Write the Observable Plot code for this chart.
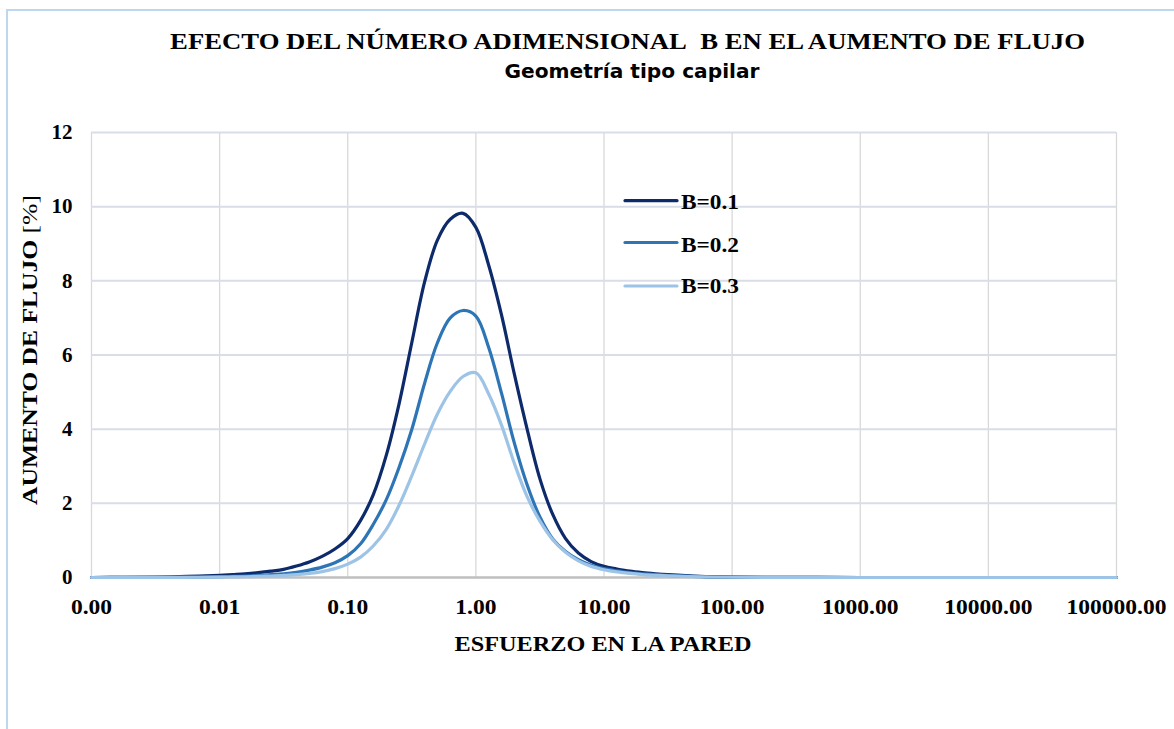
<!DOCTYPE html>
<html>
<head>
<meta charset="utf-8">
<script src="https://cdn.jsdelivr.net/npm/d3@7"></script>
<script src="https://cdn.jsdelivr.net/npm/@observablehq/plot@0.6"></script>
<style>
  html, body { margin: 0; padding: 0; background: #fff; }
  #wrap { position: relative; width: 1174px; height: 729px; overflow: hidden; background: #fff; }
  #frame { position: absolute; left: 6px; top: 9px; width: 1200px; height: 800px;
           border-top: 2.5px solid #bdd7ee; border-left: 2.5px solid #bdd7ee; }
  #chart { position: absolute; left: 0; top: 0; }
  #overlay { position: absolute; left: 0; top: 0; pointer-events: none; }
</style>
</head>
<body>
<div id="wrap">
  <div id="frame"></div>
  <div id="chart"></div>
  <svg id="overlay" width="1174" height="729" xmlns="http://www.w3.org/2000/svg"></svg>
</div>
<script>
// ---- data ----
const titleText = "EFECTO DEL NÚMERO ADIMENSIONAL\u00a0 B EN EL AUMENTO DE FLUJO";
const subtitleText = "Geometría tipo capilar";
const xLabelText = "ESFUERZO EN LA PARED";
const yLabelBold = "AUMENTO DE FLUJO ";
const yLabelRegular = "[%]";

const xTicks = [0.001, 0.01, 0.1, 1, 10, 100, 1000, 10000, 100000];
const yTicks = [0, 2, 4, 6, 8, 10, 12];

const seriesNames = ["B=0.1", "B=0.2", "B=0.3"];
const seriesColors = ["#0d2a6b", "#2e75b6", "#9dc3e6"];

// wall shear stress (x)
const tau = [0.001, 0.0018, 0.0032, 0.0056, 0.01, 0.0126, 0.0158, 0.02, 0.0251, 0.0316, 0.0398, 0.0501,
             0.0631, 0.0794, 0.1, 0.126, 0.158, 0.2, 0.251, 0.316, 0.398, 0.501, 0.631, 0.794, 1,
             1.259, 1.585, 1.995, 2.512, 3.162, 3.981, 5.012, 6.31, 7.943, 10, 12.59, 15.85, 19.95,
             25.12, 31.62, 56.23, 100, 316.2, 1000, 10000, 100000];
// flow increase [%] for each B
const b01 = [0, 0.003, 0.012, 0.03, 0.06, 0.08, 0.1, 0.13, 0.17, 0.22, 0.31, 0.42,
             0.57, 0.77, 1.05, 1.54, 2.23, 3.3, 4.67, 6.33, 7.97, 9.1, 9.66, 9.82, 9.44,
             8.42, 7.08, 5.49, 4.0, 2.66, 1.7, 1.05, 0.66, 0.43, 0.3, 0.23, 0.17, 0.13,
             0.1, 0.075, 0.03, 0.012, 0.003, 0, 0, 0];
const b02 = [0, 0.002, 0.005, 0.01, 0.022, 0.03, 0.04, 0.055, 0.075, 0.1, 0.14, 0.2,
             0.28, 0.4, 0.59, 0.91, 1.43, 2.1, 2.96, 3.99, 5.24, 6.33, 7.0, 7.2, 7.05,
             6.2, 4.97, 3.63, 2.5, 1.63, 1.04, 0.7, 0.48, 0.33, 0.24, 0.18, 0.13, 0.1,
             0.075, 0.055, 0.022, 0.009, 0.002, 0, 0, 0];
const b03 = [0, 0.001, 0.002, 0.005, 0.011, 0.015, 0.02, 0.03, 0.04, 0.055, 0.08, 0.11,
             0.16, 0.24, 0.36, 0.55, 0.85, 1.3, 1.94, 2.74, 3.6, 4.41, 5.02, 5.42, 5.52,
             4.95, 4.11, 3.08, 2.18, 1.52, 1.02, 0.68, 0.45, 0.3, 0.21, 0.15, 0.11, 0.08,
             0.06, 0.045, 0.018, 0.007, 0.002, 0, 0, 0];
const seriesValues = [b01, b02, b03];

const rowsFor = (i) => tau.map((t, k) => ({tau: t, value: seriesValues[i][k], series: seriesNames[i]}));

const serif = "'Liberation Serif', 'Times New Roman', serif";

const chart = Plot.plot({
  width: 1174,
  height: 729,
  marginLeft: 91,
  marginRight: 58,
  marginTop: 132,
  marginBottom: 152,
  style: {fontFamily: serif, fontSize: "21px", fontWeight: "bold", color: "#000", background: "transparent"},
  x: {type: "log", domain: [0.001, 100000]},
  y: {domain: [0, 12]},
  marks: [
    Plot.ruleX(xTicks, {stroke: "#d9d9d9", strokeWidth: 1.3}),
    Plot.ruleY(yTicks.filter(d => d > 0), {stroke: "#d9dde8", strokeWidth: 2}),
    Plot.ruleY([0], {stroke: "#bfbfbf", strokeWidth: 2.5}),
    Plot.axisX({ticks: xTicks, tickFormat: d => d.toFixed(2), tickSize: 0, tickPadding: 22, label: null,
                fontSize: 21, fontWeight: "bold", fill: "#000"}),
    Plot.axisY({ticks: yTicks, tickFormat: d => String(d), tickSize: 0, tickPadding: 19, label: null,
                fontSize: 21, fontWeight: "bold", fill: "#000"}),
    ...seriesNames.map((name, i) =>
      Plot.line(rowsFor(i), {x: "tau", y: "value", stroke: seriesColors[i], strokeWidth: 3.2,
                             curve: "catmull-rom", strokeLinecap: "round", strokeLinejoin: "round"}))
  ]
});
document.getElementById("chart").appendChild(chart);

// horizontal stretch of a text element about its centre (reference font is wider)
function stretch(el, s) {
  const bb = el.getBBox();
  const cx = bb.x + bb.width / 2;
  const existing = el.getAttribute("transform") || "";
  el.setAttribute("transform", `${existing} translate(${cx},0) scale(${s},1) translate(${-cx},0)`);
}
function stretchTo(el, target) {
  stretch(el, target / el.getBBox().width);
}

chart.querySelectorAll('g[aria-label="x-axis tick label"] text').forEach(t => stretch(t, 1.12));

// ---- overlay texts: title, subtitle, axis labels, legend ----
const ns = "http://www.w3.org/2000/svg";
const overlay = document.getElementById("overlay");
function addText(str, attrs, parent = overlay) {
  const t = document.createElementNS(ns, "text");
  for (const k in attrs) t.setAttribute(k, attrs[k]);
  if (str != null) t.textContent = str;
  parent.appendChild(t);
  return t;
}
const tEl = addText(titleText, {x: 627.5, y: 49.5, "text-anchor": "middle", "font-family": serif, "font-size": 23.5,
  "font-weight": "bold", fill: "#000"});
stretchTo(tEl, 915);
const sEl = addText(subtitleText, {x: 632, y: 78, "text-anchor": "middle", "font-family": "'DejaVu Sans', sans-serif",
  "font-size": 19, "font-weight": "bold", fill: "#000"});
stretchTo(sEl, 256);
const xEl = addText(xLabelText, {x: 603, y: 651, "text-anchor": "middle", "font-family": serif, "font-size": 21,
  "font-weight": "bold", fill: "#000"});
stretchTo(xEl, 297);

const g = document.createElementNS(ns, "g");
g.setAttribute("transform", "translate(36.5,350) rotate(-90)");
overlay.appendChild(g);
const yl = addText(null, {x: 0, y: 0, "text-anchor": "middle", "font-family": serif, "font-size": 21, fill: "#000"}, g);
const ts1 = document.createElementNS(ns, "tspan");
ts1.setAttribute("font-weight", "bold"); ts1.textContent = yLabelBold; yl.appendChild(ts1);
const ts2 = document.createElementNS(ns, "tspan");
ts2.setAttribute("font-weight", "normal"); ts2.textContent = yLabelRegular; yl.appendChild(ts2);
stretchTo(yl, 310);

// legend
const legendLineY = [200.7, 242.5, 286];
const legendTextY = [209.5, 251.7, 293.5];
seriesNames.forEach((name, i) => {
  const ln = document.createElementNS(ns, "line");
  ln.setAttribute("x1", 625); ln.setAttribute("x2", 677);
  ln.setAttribute("y1", legendLineY[i]); ln.setAttribute("y2", legendLineY[i]);
  ln.setAttribute("stroke", seriesColors[i]); ln.setAttribute("stroke-width", 3.2);
  ln.setAttribute("stroke-linecap", "round");
  overlay.appendChild(ln);
  const le = addText(name, {x: 681, y: legendTextY[i], "font-family": serif, "font-size": 21, "font-weight": "bold",
    fill: "#000"});
  const w0 = le.getBBox().width;
  const s = 58 / w0;
  stretch(le, s);
  // keep left edge at 681 after stretching about the centre
  const shift = (w0 * s - w0) / 2;
  le.setAttribute("transform", `translate(${shift},0) ` + le.getAttribute("transform"));
});
</script>
</body>
</html>
